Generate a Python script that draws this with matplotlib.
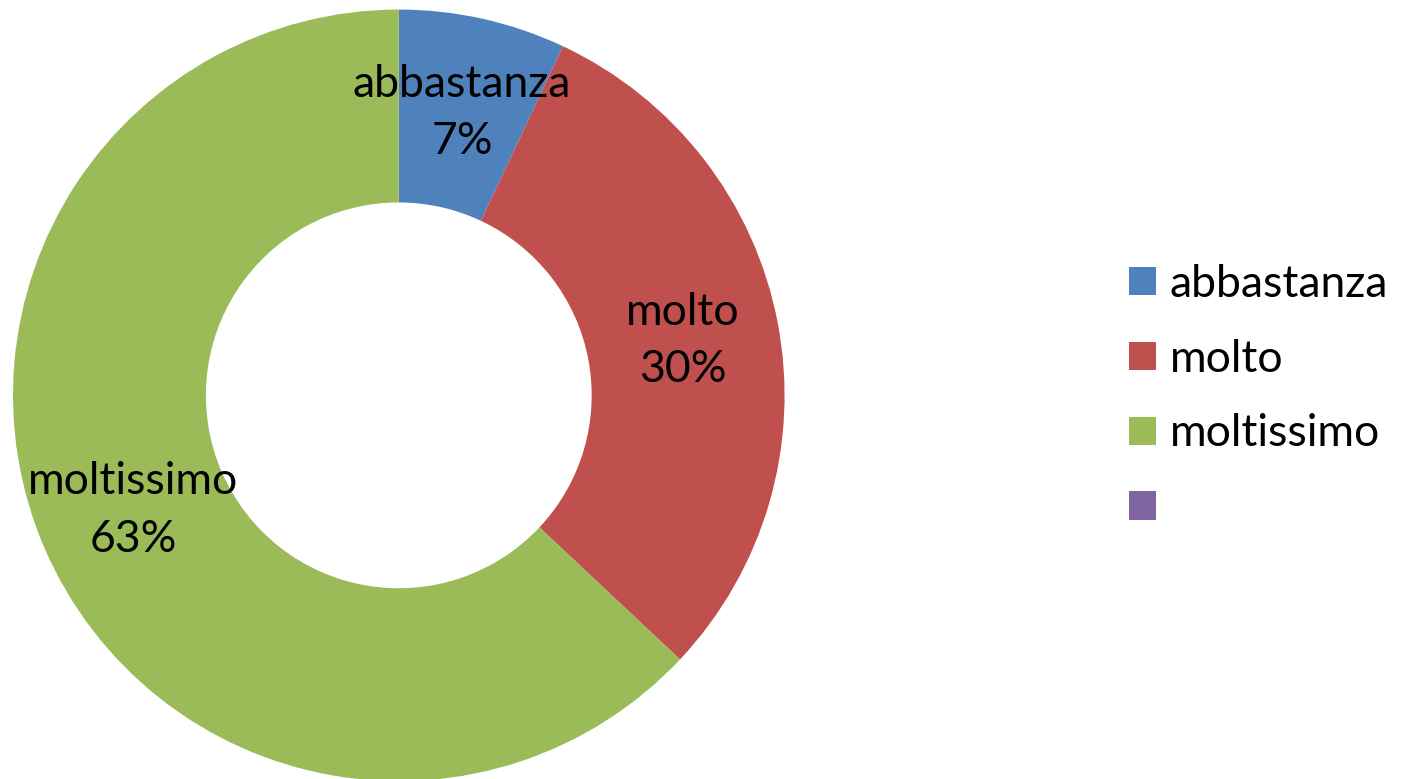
import matplotlib
matplotlib.use('Agg')
import matplotlib.pyplot as plt
import numpy as np
from matplotlib.patches import Patch

categories = ['abbastanza', 'molto', 'moltissimo', '']
values = [7, 30, 63, 0]
colors = ['#4F81BD', '#C0504D', '#9BBB59', '#8064A2']

plt.rcParams['font.family'] = ['Lato', 'DejaVu Sans']
fs = 32

fig = plt.figure(figsize=(14.08, 7.79), dpi=100)
ax = fig.add_axes([0.00923, -0.003, 0.548, 0.991])

wedges, _ = ax.pie(values, colors=colors, startangle=90, counterclock=False,
                   radius=1, wedgeprops=dict(width=0.5, linewidth=0))
ax.set_xlim(-1, 1)
ax.set_ylim(-1, 1)
ax.set_aspect('equal')
ax.axis('off')

total = sum(values)
for w, name, v in zip(wedges, categories, values):
    if v == 0:
        continue
    mid = np.deg2rad((w.theta1 + w.theta2) / 2)
    x = 0.75 * np.cos(mid)
    y = 0.75 * np.sin(mid)
    ax.text(x, y, f"{name}\n{v / total * 100:.0f}%", ha='center', va='center',
            multialignment='center', fontsize=fs, linespacing=1.5)

handles = [Patch(facecolor=c, edgecolor='none') for c in colors]
fig.legend(handles, categories, loc='center left',
           bbox_to_anchor=(1129 / 1408, (779 - 396.5) / 779),
           frameon=False, fontsize=fs, borderpad=0, borderaxespad=0,
           handlelength=0.6, handleheight=0.6, handletextpad=0.32,
           labelspacing=0.76)

fig.savefig('out.png', dpi=100)
